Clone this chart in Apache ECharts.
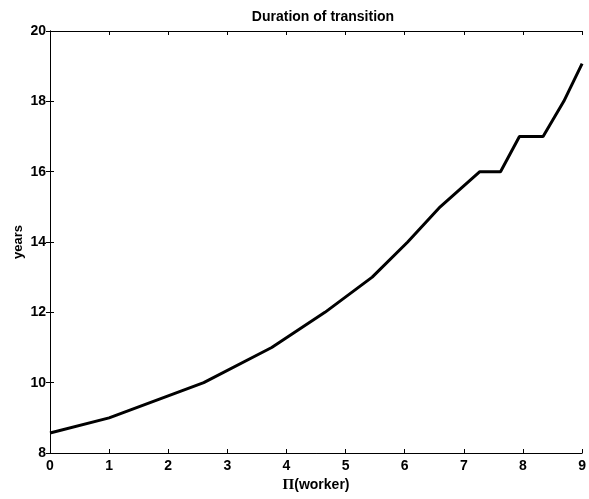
<!DOCTYPE html>
<html><head><meta charset="utf-8">
<script src="https://cdn.jsdelivr.net/npm/echarts@6/dist/echarts.min.js"></script>
<style>html,body{margin:0;padding:0;background:#fff}#c{width:589px;height:499px}</style>
</head><body><div id="c"></div>
<script>
const xValues = [0, 1, 2.6, 3.75, 4.65, 5.45, 6.05, 6.6, 7.27, 7.62, 7.94, 8.34, 8.69, 9];
const years   = [8.57, 9.0, 10, 11, 12, 13, 14, 15, 16, 16, 17, 17, 18, 19.07];
const titleText = 'Duration of transition';
const xNameSymbol = 'Π';
const xNameRest = '(worker)';
const yName = 'years';

const chart = echarts.init(document.getElementById('c'));
const font = 'Liberation Sans, Arial, sans-serif';
const axisCommon = {
  axisLine: {show: true, lineStyle: {color: '#000', width: 1}},
  axisTick: {show: true, inside: true, length: 4, lineStyle: {color: '#000'}},
  splitLine: {show: false},
};
chart.setOption({
  animation: false,
  title: {text: titleText, left: 318, top: 5, textAlign: 'center',
    textStyle: {fontFamily: font, fontWeight: 'bold', fontSize: 14, color: '#000'}},
  grid: {left: 50, right: 3, top: 31, bottom: 46, containLabel: false},
  xAxis: [
    Object.assign({type: 'value', min: 0, max: 9, interval: 1, position: 'bottom',
      name: '{s|' + xNameSymbol + '}{n|' + xNameRest + '}', nameLocation: 'middle', nameGap: 21,
      nameTextStyle: {fontFamily: font, fontWeight: 'bold', fontSize: 14, color: '#000',
        rich: {
          s: {fontFamily: 'Liberation Serif, Times New Roman, serif', fontWeight: 'bold', fontSize: 15, color: '#000'},
          n: {fontFamily: font, fontWeight: 'bold', fontSize: 14, color: '#000'}
        }},
      axisLabel: {fontFamily: font, fontWeight: 'bold', fontSize: 14, color: '#000', margin: 6}}, axisCommon),
    Object.assign({type: 'value', min: 0, max: 9, interval: 1, position: 'top',
      axisLabel: {show: false}}, axisCommon)
  ],
  yAxis: [
    Object.assign({type: 'value', min: 8, max: 20, interval: 2, position: 'left',
      name: yName, nameLocation: 'middle', nameGap: 25, nameRotate: 90, nameMoveOverlap: false,
      nameTextStyle: {fontFamily: font, fontWeight: 'bold', fontSize: 13, color: '#000'},
      axisLabel: {fontFamily: font, fontWeight: 'bold', fontSize: 14, color: '#000', margin: 4}}, axisCommon),
    Object.assign({type: 'value', min: 8, max: 20, interval: 2, position: 'right',
      axisLabel: {show: false}}, axisCommon)
  ],
  series: [{
    type: 'line', data: xValues.map((x, i) => [x, years[i]]),
    symbol: 'none', lineStyle: {color: '#000', width: 3}
  }]
});
</script></body></html>
